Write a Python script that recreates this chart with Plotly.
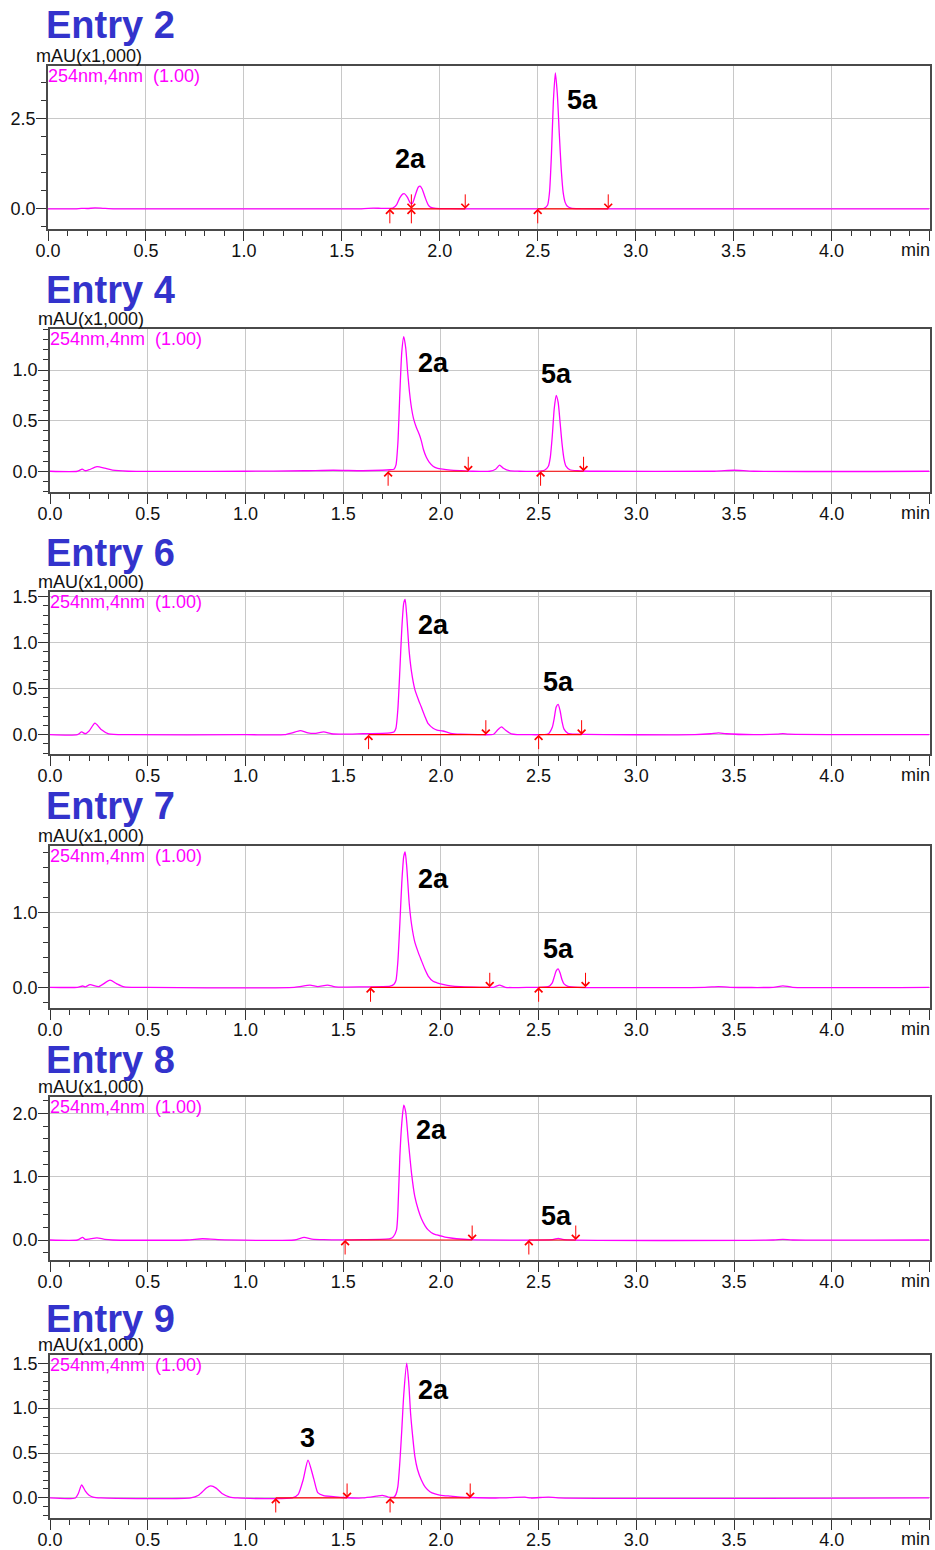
import plotly.graph_objects as go

W, H = 935, 1550
FONT = "Liberation Sans, Arial, sans-serif"

titles = ["Entry 2", "Entry 4", "Entry 6", "Entry 7", "Entry 8", "Entry 9"]
x_ticks = [0.0, 0.5, 1.0, 1.5, 2.0, 2.5, 3.0, 3.5, 4.0, 4.5]
x_ticktext = ["0.0", "0.5", "1.0", "1.5", "2.0", "2.5", "3.0", "3.5", "4.0", ""]

# ---------------- Entry 2 ----------------
t_e2 = [0.00, 0.14, 0.17, 0.20, 0.24, 0.28, 0.34, 0.60, 1.20, 1.60, 1.66, 1.70, 1.74,
        1.76, 1.78, 1.795, 1.81, 1.82, 1.835, 1.85, 1.86, 1.875, 1.89, 1.90, 1.91, 1.925,
        1.94, 1.955, 1.98, 2.05, 2.20, 2.50, 2.53, 2.55, 2.56, 2.57, 2.58, 2.59, 2.60, 2.61,
        2.62, 2.63, 2.64, 2.65, 2.67, 2.72, 3.00, 4.50]
a_e2 = [0.0, 0.0, 0.015, 0.01, 0.025, 0.015, 0.0, 0.0, 0.0, 0.0, 0.02, 0.015, 0.015,
        0.02, 0.12, 0.30, 0.41, 0.42, 0.32, 0.16, 0.15, 0.38, 0.60, 0.63, 0.55, 0.32,
        0.12, 0.04, 0.015, 0.005, 0.0, 0.0, 0.01, 0.10, 0.45, 1.50, 3.00, 3.78, 3.20, 2.10,
        1.10, 0.45, 0.18, 0.08, 0.02, 0.005, 0.0, 0.0]
start_e2 = [1.745, 1.855, 2.50]
end_e2 = [1.855, 2.13, 2.86]
yt_e2 = [0.0, 2.5]

# ---------------- Entry 4 ----------------
t_e4 = [0.00, 0.14, 0.165, 0.18, 0.20, 0.24, 0.28, 0.32, 0.40, 1.00, 1.30, 1.45, 1.60,
        1.70, 1.74, 1.76, 1.77, 1.78, 1.79, 1.80, 1.81, 1.82, 1.83, 1.84, 1.85, 1.86, 1.875,
        1.89, 1.90, 1.91, 1.925, 1.94, 1.96, 1.98, 2.01, 2.05, 2.10, 2.16, 2.25, 2.28, 2.30,
        2.32, 2.35, 2.40, 2.50, 2.53, 2.55, 2.56, 2.57, 2.58, 2.59, 2.60, 2.61, 2.62, 2.63,
        2.64, 2.66, 2.70, 2.80, 3.40, 3.50, 3.60, 4.50]
a_e4 = [0.0, 0.0, 0.02, 0.005, 0.015, 0.045, 0.03, 0.01, 0.0, 0.0, 0.005, 0.01, 0.005,
        0.01, 0.015, 0.02, 0.06, 0.28, 0.77, 1.18, 1.33, 1.22, 0.98, 0.77, 0.62, 0.52, 0.43,
        0.36, 0.30, 0.22, 0.14, 0.09, 0.05, 0.03, 0.02, 0.012, 0.006, 0.0, 0.0, 0.02, 0.06,
        0.03, 0.005, 0.0, 0.0, 0.01, 0.05, 0.14, 0.35, 0.62, 0.75, 0.68, 0.48, 0.27, 0.12,
        0.05, 0.015, 0.005, 0.0, 0.0, 0.01, 0.0, 0.0]
start_e4 = [1.73, 2.51]
end_e4 = [2.14, 2.73]
yt_e4 = [0.0, 0.5, 1.0]

# ---------------- Entry 6 ----------------
t_e6 = [0.00, 0.14, 0.162, 0.18, 0.20, 0.23, 0.26, 0.30, 0.40, 1.00, 1.20, 1.24, 1.28,
        1.32, 1.36, 1.40, 1.44, 1.50, 1.60, 1.70, 1.74, 1.76, 1.77, 1.78, 1.79, 1.80, 1.81,
        1.817, 1.825, 1.838, 1.85, 1.867, 1.885, 1.90, 1.92, 1.935, 1.96, 1.98, 2.01, 2.05,
        2.10, 2.20, 2.27, 2.29, 2.31, 2.33, 2.36, 2.45, 2.55, 2.57, 2.58, 2.59, 2.60, 2.61,
        2.62, 2.63, 2.65, 2.70, 3.30, 3.38, 3.42, 3.46, 3.60, 3.72, 3.75, 3.78, 4.50]
a_e6 = [0.0, 0.0, 0.03, 0.01, 0.04, 0.125, 0.06, 0.01, 0.0, 0.0, 0.0, 0.02, 0.045,
        0.02, 0.015, 0.03, 0.01, 0.005, 0.01, 0.015, 0.02, 0.03, 0.07, 0.28, 0.70, 1.15, 1.43,
        1.47, 1.30, 0.90, 0.68, 0.49, 0.38, 0.30, 0.19, 0.12, 0.07, 0.05, 0.04, 0.015,
        0.005, 0.0, 0.005, 0.05, 0.085, 0.05, 0.01, 0.0, 0.01, 0.08, 0.18, 0.30, 0.33, 0.26,
        0.14, 0.06, 0.015, 0.005, 0.0, 0.01, 0.02, 0.01, 0.0, 0.005, 0.012, 0.005, 0.0]
start_e6 = [1.63, 2.50]
end_e6 = [2.23, 2.72]
yt_e6 = [0.0, 0.5, 1.0, 1.5]

# ---------------- Entry 7 ----------------
t_e7 = [0.00, 0.14, 0.167, 0.18, 0.205, 0.25, 0.307, 0.34, 0.38, 0.50, 1.25, 1.33, 1.37,
        1.42, 1.46, 1.60, 1.74, 1.76, 1.77, 1.78, 1.79, 1.80, 1.81, 1.817, 1.825, 1.838,
        1.85, 1.867, 1.885, 1.90, 1.92, 1.935, 1.96, 1.98, 2.01, 2.05, 2.10, 2.20, 2.27,
        2.30, 2.33, 2.45, 2.55, 2.57, 2.58, 2.59, 2.60, 2.61, 2.62, 2.63, 2.65, 2.70, 3.35,
        3.42, 3.48, 3.70, 3.75, 3.80, 4.50]
a_e7 = [0.0, 0.0, 0.017, 0.005, 0.035, 0.01, 0.095, 0.05, 0.005, 0.0, 0.0, 0.03, 0.01,
        0.03, 0.005, 0.005, 0.015, 0.04, 0.09, 0.35, 0.85, 1.40, 1.75, 1.81, 1.62, 1.12,
        0.84, 0.60, 0.46, 0.36, 0.23, 0.15, 0.08, 0.06, 0.04, 0.02, 0.008, 0.0, 0.0,
        0.03, 0.0, 0.0, 0.01, 0.06, 0.14, 0.22, 0.245, 0.19, 0.10, 0.045, 0.012, 0.0, 0.0,
        0.01, 0.0, 0.0, 0.02, 0.0, 0.0]
start_e7 = [1.64, 2.50]
end_e7 = [2.25, 2.74]
yt_e7 = [0.0, 1.0]

# ---------------- Entry 8 ----------------
t_e8 = [0.00, 0.14, 0.167, 0.18, 0.20, 0.24, 0.28, 0.32, 0.70, 0.78, 0.86, 1.25, 1.30,
        1.34, 1.40, 1.60, 1.74, 1.756, 1.773, 1.78, 1.79, 1.80, 1.81, 1.82, 1.833, 1.85,
        1.867, 1.885, 1.90, 1.92, 1.935, 1.96, 1.98, 2.03, 2.08, 2.15, 2.57, 2.60, 2.63,
        3.70, 3.75, 3.80, 4.50]
a_e8 = [0.0, 0.0, 0.04, 0.01, 0.015, 0.035, 0.01, 0.0, 0.0, 0.02, 0.005, 0.0, 0.04,
        0.015, 0.005, 0.005, 0.02, 0.05, 0.16, 0.45, 1.32, 1.85, 2.13, 2.02, 1.58, 1.05,
        0.68, 0.47, 0.34, 0.22, 0.16, 0.10, 0.08, 0.04, 0.02, 0.005, 0.005, 0.025, 0.005,
        0.0, 0.01, 0.0, 0.0]
start_e8 = [1.51, 2.45]
end_e8 = [2.16, 2.69]
yt_e8 = [0.0, 1.0, 2.0]

# ---------------- Entry 9 ----------------
t_e9 = [0.00, 0.13, 0.145, 0.162, 0.18, 0.20, 0.22, 0.26, 0.72, 0.76, 0.80, 0.822, 0.85,
        0.88, 0.92, 0.96, 1.24, 1.27, 1.295, 1.32, 1.35, 1.37, 1.40, 1.45, 1.50, 1.60, 1.67,
        1.70, 1.73, 1.76, 1.77, 1.78, 1.79, 1.80, 1.81, 1.825, 1.835, 1.845, 1.855, 1.867,
        1.88, 1.90, 1.92, 1.944, 1.97, 2.00, 2.05, 2.10, 2.15, 2.30, 2.43, 2.46, 2.55, 2.60,
        4.50]
a_e9 = [0.0, 0.0, 0.05, 0.145, 0.08, 0.03, 0.01, 0.0, 0.0, 0.03, 0.11, 0.134, 0.11,
        0.05, 0.01, 0.0, 0.0, 0.04, 0.20, 0.42, 0.21, 0.06, 0.025, 0.015, 0.005, 0.0, 0.02,
        0.03, 0.01, 0.01, 0.04, 0.13, 0.40, 0.76, 1.15, 1.50, 1.30, 0.94, 0.70, 0.46,
        0.32, 0.20, 0.12, 0.07, 0.045, 0.03, 0.02, 0.01, 0.005, 0.0, 0.01, 0.0, 0.01, 0.0,
        0.0]
start_e9 = [1.155, 1.74]
end_e9 = [1.52, 2.15]
yt_e9 = [0.0, 0.5, 1.0, 1.5]

# peak labels: (text, time, height)
labels = [
    [("2a", 1.85, 1.39), ("5a", 2.73, 3.03)],
    [("2a", 1.96, 1.07), ("5a", 2.59, 0.96)],
    [("2a", 1.96, 1.19), ("5a", 2.60, 0.57)],
    [("2a", 1.96, 1.45), ("5a", 2.60, 0.51)],
    [("2a", 1.95, 1.74), ("5a", 2.59, 0.38)],
    [("3", 1.32, 0.67), ("2a", 1.96, 1.20)],
]

series = [
    (t_e2, a_e2, start_e2, end_e2, yt_e2),
    (t_e4, a_e4, start_e4, end_e4, yt_e4),
    (t_e6, a_e6, start_e6, end_e6, yt_e6),
    (t_e7, a_e7, start_e7, end_e7, yt_e7),
    (t_e8, a_e8, start_e8, end_e8, yt_e8),
    (t_e9, a_e9, start_e9, end_e9, yt_e9),
]

# layout geometry (window pixels): left, top, bottom ; y range ; minor y step
geom = [
    (48, 66, 229, [-0.56, 3.97], 0.5),
    (50, 329, 492, [-0.205, 1.405], 0.1),
    (50, 592, 754, [-0.21, 1.551], 0.1),
    (50, 846, 1008, [-0.277, 1.89], 0.2),
    (50, 1097, 1260, [-0.316, 2.26], 0.2),
    (50, 1355, 1518, [-0.223, 1.592], 0.1),
]
title_y = [25, 290, 553, 806, 1060, 1319]
RIGHT = 929.5


def px(v):
    return v / W


def py(v):
    return 1 - v / H


fig = go.Figure()
annotations = []
layout = {}
for i, ((t, a, st, en, yt), (left, top, bot, yr, ystep)) in enumerate(zip(series, geom)):
    k = "" if i == 0 else str(i + 1)
    xr, yrf = "x" + k, "y" + k
    fig.add_trace(go.Scatter(x=t, y=a, mode="lines", xaxis=xr, yaxis=yrf,
                             line=dict(color="#ff00ff", width=1.3, shape="spline", smoothing=0.6),
                             hoverinfo="skip", showlegend=False))
    bx, by = [], []
    for s, e in zip(st, en):
        bx += [s, e, None]
        by += [0, 0, None]
    fig.add_trace(go.Scatter(x=bx, y=by, mode="lines", xaxis=xr, yaxis=yrf,
                             line=dict(color="#ff0000", width=1.2),
                             hoverinfo="skip", showlegend=False))
    axis_common = dict(showline=True, mirror=True, linecolor="#4a4a4a", linewidth=1.5,
                       zeroline=False, showgrid=True, gridcolor="#c8c8c8", gridwidth=1,
                       ticks="outside", ticklen=10, tickcolor="#333", tickwidth=1,
                       automargin=False,
                       tickfont=dict(family=FONT, size=18, color="#111"))
    layout["xaxis" + k] = dict(axis_common, domain=[px(left), px(RIGHT)], range=[0, 4.5],
                               anchor=yrf, tickmode="array", tickvals=x_ticks,
                               ticktext=x_ticktext, ticklabelstandoff=-5,
                               minor=dict(dtick=0.1, tick0=0, ticks="outside", ticklen=5,
                                          tickcolor="#333", showgrid=False))
    layout["yaxis" + k] = dict(axis_common, domain=[py(bot), py(top)], range=yr,
                               anchor=xr, tickmode="array", tickvals=yt,
                               ticktext=["%.1f" % v for v in yt], ticklabelstandoff=-3,
                               minor=dict(dtick=ystep, tick0=0, ticks="outside", ticklen=5,
                                          tickcolor="#333", showgrid=False))
    # titles
    annotations.append(dict(text="<b>" + titles[i] + "</b>", xref="paper", yref="paper",
                            x=px(44), y=py(title_y[i]), xanchor="left", yanchor="middle",
                            showarrow=False, font=dict(family=FONT, size=38, color="#3333cc")))
    annotations.append(dict(text="mAU(x1,000)", xref=xr + " domain", yref=yrf + " domain",
                            x=0, y=1, xanchor="left", yanchor="middle", xshift=-14, yshift=10,
                            showarrow=False, font=dict(family=FONT, size=18, color="#111")))
    annotations.append(dict(text="254nm,4nm &nbsp;(1.00)", xref=xr + " domain", yref=yrf + " domain",
                            x=0, y=1, xanchor="left", yanchor="middle", xshift=-2, yshift=-10,
                            showarrow=False, font=dict(family=FONT, size=18, color="#ff00ff")))
    annotations.append(dict(text="min", xref=xr + " domain", yref=yrf + " domain",
                            x=1, y=0, xanchor="right", yanchor="middle", yshift=-21, xshift=2,
                            showarrow=False, font=dict(family=FONT, size=18, color="#111")))
    for txt, lx, ly in labels[i]:
        annotations.append(dict(text="<b>" + txt + "</b>", xref=xr, yref=yrf, x=lx, y=ly,
                                showarrow=False, xanchor="center", yanchor="middle",
                                font=dict(family=FONT, size=27, color="#000")))
    for s in st:
        annotations.append(dict(text="", xref=xr, yref=yrf, x=s, y=0, ax=0, ay=16,
                                showarrow=True, arrowhead=4, arrowsize=1.5, arrowwidth=1,
                                arrowcolor="#ff0000", standoff=0))
    for e in en:
        annotations.append(dict(text="", xref=xr, yref=yrf, x=e, y=0, ax=0, ay=-16,
                                showarrow=True, arrowhead=4, arrowsize=1.5, arrowwidth=1,
                                arrowcolor="#ff0000", standoff=0))

fig.update_layout(template="none", width=W, height=H,
                  margin=dict(l=0, r=0, t=0, b=0, autoexpand=False),
                  paper_bgcolor="white", plot_bgcolor="white",
                  annotations=annotations, **layout)
fig.write_html("out.html", config={"displayModeBar": False},
               post_script="document.body.style.margin='0';document.body.style.overflow='hidden';")
